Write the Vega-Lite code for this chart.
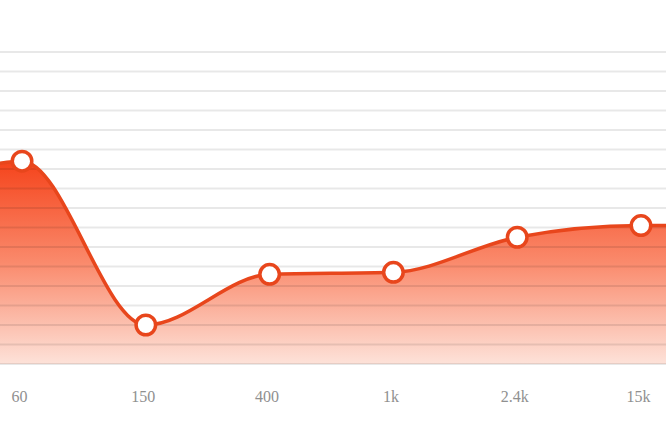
{
  "$schema": "https://vega.github.io/schema/vega-lite/v6.json",
  "width": 666,
  "height": 312,
  "autosize": {"type": "none"},
  "padding": {"left": 0, "top": 52, "right": 0, "bottom": 59},
  "background": "#ffffff",
  "config": {"view": {"stroke": null}},
  "datasets": {
    "eq": [
      {"i": -0.178, "gain": 10.3, "band": null},
      {"i": 0, "gain": 10.4, "band": "60"},
      {"i": 1, "gain": 2.0, "band": "150"},
      {"i": 2, "gain": 4.6, "band": "400"},
      {"i": 3, "gain": 4.7, "band": "1k"},
      {"i": 4, "gain": 6.5, "band": "2.4k"},
      {"i": 5, "gain": 7.1, "band": "15k"},
      {"i": 5.202, "gain": 7.1, "band": null}
    ],
    "grid": [
      {"g": 0}, {"g": 1}, {"g": 2}, {"g": 3}, {"g": 4}, {"g": 5}, {"g": 6}, {"g": 7}, {"g": 8},
      {"g": 9}, {"g": 10}, {"g": 11}, {"g": 12}, {"g": 13}, {"g": 14}, {"g": 15}, {"g": 16}
    ]
  },
  "layer": [
    {
      "data": {"name": "eq"},
      "mark": {
        "type": "area",
        "interpolate": "monotone",
        "fill": {
          "x1": 0, "y1": 0, "x2": 0, "y2": 1,
          "gradient": "linear",
          "stops": [
            {"offset": 0, "color": "#f5441c"},
            {"offset": 0.5, "color": "#fa8a6c"},
            {"offset": 1, "color": "#fde2d9"}
          ]
        }
      },
      "encoding": {
        "x": {
          "field": "i", "type": "quantitative",
          "scale": {"domain": [-0.178, 5.202], "nice": false, "zero": false},
          "axis": {
            "values": [0, 1, 2, 3, 4, 5],
            "labelExpr": "['60','150','400','1k','2.4k','15k'][datum.value]",
            "grid": false, "domain": false, "ticks": false,
            "labelPadding": 24, "labelFont": "Liberation Serif", "labelFontSize": 16,
            "labelColor": "#909090", "title": null, "labelFlush": false, "labelOffset": -3
          }
        },
        "y": {
          "field": "gain", "type": "quantitative",
          "scale": {"domain": [0, 16], "nice": false, "zero": true},
          "axis": null
        }
      }
    },
    {
      "data": {"name": "grid"},
      "mark": {"type": "rule", "color": "#000000", "opacity": 0.09, "strokeWidth": 2},
      "encoding": {
        "y": {"field": "g", "type": "quantitative"}
      }
    },
    {
      "data": {"name": "eq"},
      "mark": {"type": "line", "interpolate": "monotone", "color": "#e8461c", "strokeWidth": 3.5},
      "encoding": {
        "x": {"field": "i", "type": "quantitative"},
        "y": {"field": "gain", "type": "quantitative"}
      }
    },
    {
      "data": {"name": "eq"},
      "transform": [{"filter": "datum.band != null"}],
      "mark": {"type": "point", "filled": true, "fill": "#ffffff", "stroke": "#e8461c", "strokeWidth": 3.5, "size": 380, "opacity": 1},
      "encoding": {
        "x": {"field": "i", "type": "quantitative"},
        "y": {"field": "gain", "type": "quantitative"}
      }
    }
  ]
}
